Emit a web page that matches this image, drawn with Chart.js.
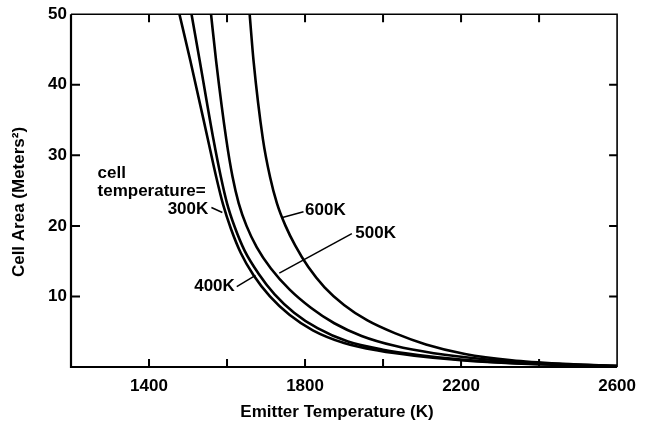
<!DOCTYPE html>
<html lang="en">
  <head>
    <meta charset="UTF-8" />
    <title>Cell Area vs Emitter Temperature</title>
    <script src="https://cdn.jsdelivr.net/npm/chart.js"></script>
    <style>
      body { margin: 0; background: #fff; }
      canvas { display: block; }
    </style>
  </head>
  <body>
    <canvas id="areaChart" width="645" height="428"></canvas>

    <script>
      // Curves: emitter temperature (K) -> cell area (m2)
      const temps300 = [1478, 1506, 1550, 1572, 1590, 1610, 1635, 1668, 1710, 1760, 1820, 1900, 1990, 2080, 2200, 2340, 2600];
      const area300 = [50, 43.4, 32.5, 27, 23, 19.6, 16.2, 13, 10, 7.4, 5.2, 3.4, 2.3, 1.6, 0.95, 0.5, 0.14];

      const temps400 = [1509, 1530, 1565, 1584, 1600, 1620, 1645, 1680, 1722, 1772, 1832, 1910, 2000, 2090, 2200, 2340, 2600];
      const area400 = [50, 43.4, 32.3, 27, 23.2, 19.8, 16.5, 13.3, 10.3, 7.7, 5.5, 3.6, 2.45, 1.7, 1.05, 0.55, 0.14];

      const temps500 = [1559, 1572, 1598, 1614, 1630, 1650, 1676, 1712, 1760, 1815, 1875, 1945, 2030, 2130, 2260, 2420, 2600];
      const area500 = [50, 43.4, 32.3, 27, 23.2, 20, 17, 14, 11, 8.4, 6.2, 4.4, 3.0, 1.95, 1.1, 0.5, 0.14];

      const temps600 = [1658, 1668, 1692, 1710, 1728, 1750, 1775, 1808, 1850, 1900, 1960, 2030, 2110, 2210, 2330, 2460, 2600];
      const area600 = [50, 43.4, 32.3, 27, 23.2, 20, 17.2, 14.2, 11.3, 8.8, 6.6, 4.8, 3.2, 1.85, 0.95, 0.45, 0.14];

      const xTickLabels = [1400, 1800, 2200, 2600];
      const yTickLabels = [10, 20, 30, 40, 50];

      const FONT = "'Liberation Sans', Arial, sans-serif";

      function points(xs, ys) {
        return xs.map((x, i) => ({ x: x, y: ys[i] }));
      }

      function curve(label, xs, ys) {
        return {
          label: label,
          data: points(xs, ys),
          showLine: true,
          borderColor: "#000",
          borderWidth: 2.6,
          pointRadius: 0,
          fill: false,
          cubicInterpolationMode: "monotone",
        };
      }

      // frame, inward ticks, axis titles and curve labels
      const framePlugin = {
        id: "frame",
        afterDatasetsDraw(chart) {
          const { ctx, chartArea: a, scales } = chart;
          const x = scales.x;
          const y = scales.y;
          ctx.save();
          ctx.strokeStyle = "#000";
          ctx.lineWidth = 2.2;
          ctx.beginPath();
          ctx.moveTo(a.left, a.top);
          ctx.lineTo(a.left, a.bottom);
          ctx.lineTo(a.right, a.bottom);
          ctx.stroke();
          ctx.lineWidth = 1.6;
          ctx.beginPath();
          ctx.moveTo(a.left, a.top);
          ctx.lineTo(a.right, a.top);
          ctx.lineTo(a.right, a.bottom);
          ctx.stroke();

          ctx.lineWidth = 2;
          x.ticks.forEach((t) => {
            if (t.value <= x.min || t.value >= x.max) return;
            const px = x.getPixelForValue(t.value);
            ctx.beginPath();
            ctx.moveTo(px, a.bottom);
            ctx.lineTo(px, a.bottom - 8);
            ctx.moveTo(px, a.top);
            ctx.lineTo(px, a.top + 8);
            ctx.stroke();
          });
          y.ticks.forEach((t) => {
            if (t.value <= y.min || t.value >= y.max) return;
            const py = y.getPixelForValue(t.value);
            ctx.beginPath();
            ctx.moveTo(a.left, py);
            ctx.lineTo(a.left + 9, py);
            ctx.moveTo(a.right, py);
            ctx.lineTo(a.right - 8, py);
            ctx.stroke();
          });

          ctx.fillStyle = "#000";
          ctx.font = "bold 17px " + FONT;
          ctx.textAlign = "center";
          ctx.textBaseline = "middle";

          // axis titles sit a little off-centre in the original
          ctx.fillText("Emitter Temperature (K)", 337, 412);
          ctx.save();
          ctx.translate(19, 202);
          ctx.rotate(-Math.PI / 2);
          ctx.fillText("Cell Area (Meters²)", 0, 0);
          ctx.restore();

          // annotations placed in data units
          const X = (v) => x.getPixelForValue(v);
          const Y = (v) => y.getPixelForValue(v);
          ctx.textAlign = "left";
          ctx.fillText("cell", X(1268), Y(27.4));
          ctx.fillText("temperature=", X(1268), Y(24.9));

          ctx.textAlign = "right";
          ctx.fillText("300K", X(1552), Y(22.3));
          ctx.fillText("400K", X(1620), Y(11.4));
          ctx.textAlign = "left";
          ctx.fillText("500K", X(1929), Y(18.9));
          ctx.fillText("600K", X(1800), Y(22.2));

          ctx.lineWidth = 1.5;
          const pointers = [
            [1560, 22.6, 1588, 21.9],
            [1625, 11.4, 1673, 13.0],
            [1920, 18.9, 1734, 13.3],
            [1796, 22.0, 1742, 21.2],
          ];
          pointers.forEach((p) => {
            ctx.beginPath();
            ctx.moveTo(X(p[0]), Y(p[1]));
            ctx.lineTo(X(p[2]), Y(p[3]));
            ctx.stroke();
          });
          ctx.restore();
        },
      };

      new Chart(document.getElementById("areaChart"), {
        type: "scatter",
        data: {
          datasets: [
            curve("300K", temps300, area300),
            curve("400K", temps400, area400),
            curve("500K", temps500, area500),
            curve("600K", temps600, area600),
          ],
        },
        options: {
          responsive: false,
          animation: false,
          layout: { padding: { top: 13, right: 22, left: 0, bottom: 0 } },
          plugins: {
            legend: { display: false },
            tooltip: { enabled: false },
          },
          scales: {
            x: {
              type: "linear",
              min: 1200,
              max: 2600,
              afterFit: (s) => { s.height = 61; },
              grid: { display: false, drawTicks: false },
              border: { display: false },
              ticks: {
                stepSize: 200,
                autoSkip: false,
                maxRotation: 0,
                padding: 9,
                color: "#000",
                font: { family: FONT, size: 17, weight: "bold" },
                callback: (v) => (xTickLabels.includes(v) ? String(v) : ""),
              },
            },
            y: {
              type: "linear",
              min: 0,
              max: 50,
              afterFit: (s) => { s.width = 71; },
              grid: { display: false, drawTicks: false },
              border: { display: false },
              ticks: {
                stepSize: 10,
                padding: 4,
                color: "#000",
                font: { family: FONT, size: 17, weight: "bold" },
                callback: (v) => (yTickLabels.includes(v) ? String(v) : ""),
              },
            },
          },
        },
        plugins: [framePlugin],
      });
    </script>
  </body>
</html>
